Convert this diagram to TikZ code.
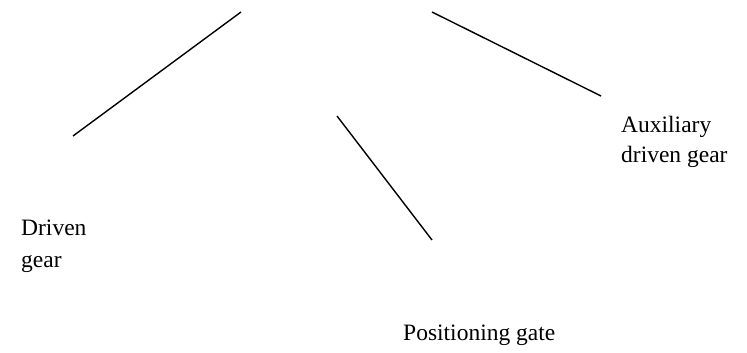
\documentclass[tikz,border=0pt]{standalone}
\usepackage{fontspec}
\setmainfont{Liberation Serif}
\begin{document}
\begin{tikzpicture}[x=1pt,y=-1pt,
  leader/.style={draw=black,line width=1.4pt},
  lbl/.style={inner sep=0pt,anchor=base west,font=\fontsize{23.5}{28}\selectfont}]
\useasboundingbox (0,0) rectangle (747,353);
\coordinate (a1) at (241,12);
\coordinate (a2) at (73,136);
\coordinate (b1) at (432,12);
\coordinate (b2) at (601,96);
\coordinate (c1) at (337,116);
\coordinate (c2) at (432,240);
\draw[leader] (a1) -- (a2);
\draw[leader] (b1) -- (b2);
\draw[leader] (c1) -- (c2);
\node[lbl] (t1) at (21,235) {Driven};
\node[lbl] (t2) at (21,267) {gear};
\node[lbl] (t3) at (621,132) {Auxiliary};
\node[lbl] (t4) at (621,162) {driven gear};
\node[lbl] (t5) at (403,340) {Positioning gate};
\end{tikzpicture}
\end{document}
